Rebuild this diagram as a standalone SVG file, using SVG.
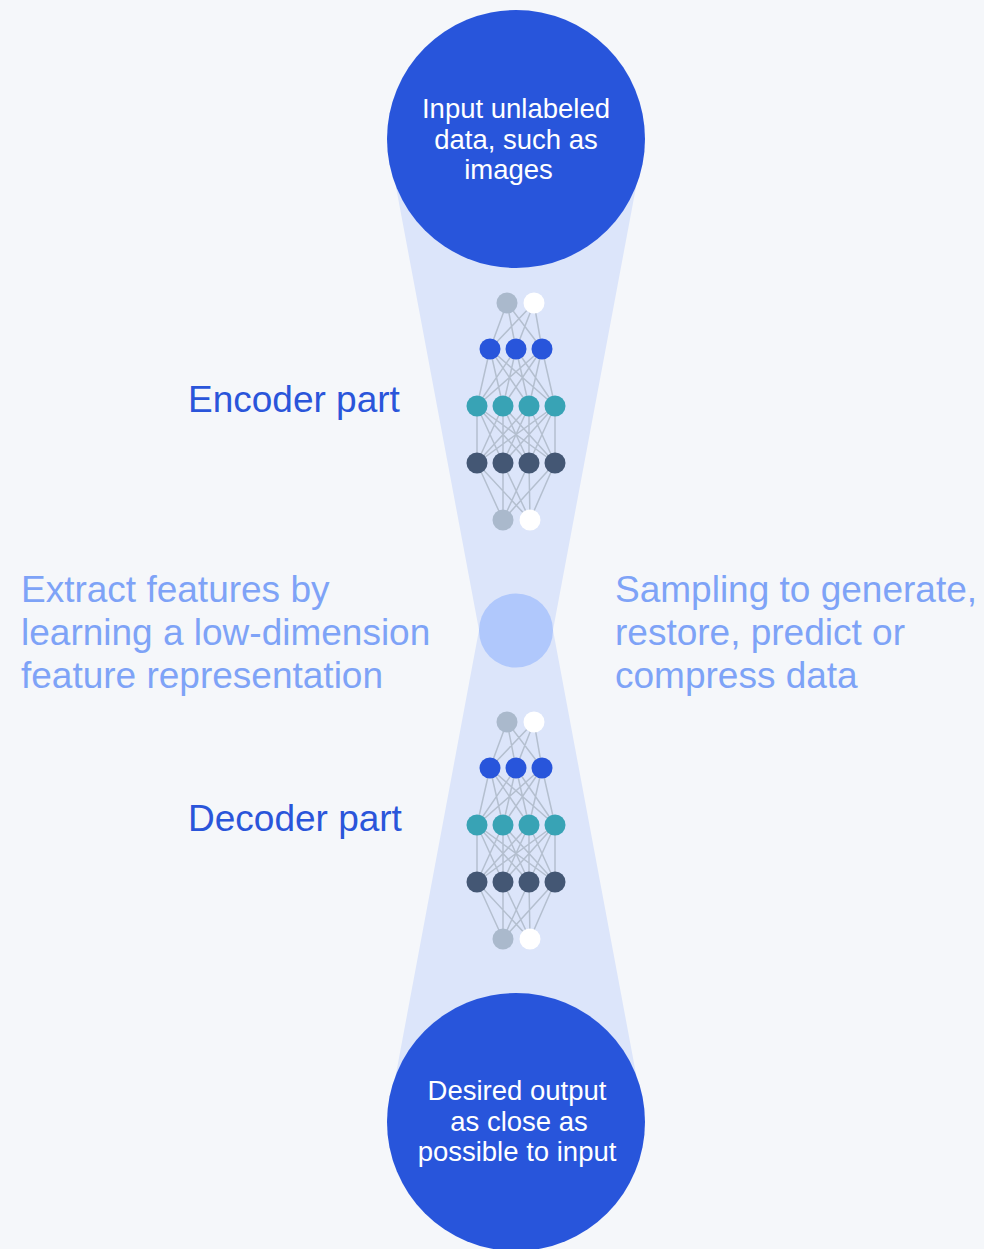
<svg xmlns="http://www.w3.org/2000/svg" xmlns:xlink="http://www.w3.org/1999/xlink" width="984" height="1249" viewBox="0 0 984 1249">
<style>
.bg{fill:#f5f7fa}
.funnel{fill:#dce5fa}
.big{fill:#2855db}
.mid{fill:#b0c8fc}
.ctext{font-family:"Liberation Sans",Arial,sans-serif;font-size:27.5px;fill:#ffffff;text-anchor:middle}
.part{font-family:"Liberation Sans",Arial,sans-serif;font-size:37px;fill:#2a55da}
.note{font-family:"Liberation Sans",Arial,sans-serif;font-size:37px;fill:#7ea3f7}
.edge{stroke:#b4bfcf;stroke-width:1.5;fill:none}
.n-grey{fill:#aab9cc}
.n-white{fill:#ffffff}
.n-blue{fill:#2855db}
.n-teal{fill:#38a3b5}
.n-dark{fill:#445774}
</style>
<defs>
<g id="net">
<path class="edge" d="M507 303L490 349M507 303L516 349M507 303L542 349M534 303L490 349M534 303L516 349M534 303L542 349
M490 349L477 406M490 349L503 406M490 349L529 406M490 349L555 406
M516 349L477 406M516 349L503 406M516 349L529 406M516 349L555 406
M542 349L477 406M542 349L503 406M542 349L529 406M542 349L555 406
M477 406L477 463M477 406L503 463M477 406L529 463M477 406L555 463
M503 406L477 463M503 406L503 463M503 406L529 463M503 406L555 463
M529 406L477 463M529 406L503 463M529 406L529 463M529 406L555 463
M555 406L477 463M555 406L503 463M555 406L529 463M555 406L555 463
M477 463L503 520M477 463L530 520M503 463L503 520M503 463L530 520
M529 463L503 520M529 463L530 520M555 463L503 520M555 463L530 520"/>
<circle class="n-grey" cx="507" cy="303" r="10.5"/>
<circle class="n-white" cx="534" cy="303" r="10.5"/>
<circle class="n-blue" cx="490" cy="349" r="10.5"/>
<circle class="n-blue" cx="516" cy="349" r="10.5"/>
<circle class="n-blue" cx="542" cy="349" r="10.5"/>
<circle class="n-teal" cx="477" cy="406" r="10.5"/>
<circle class="n-teal" cx="503" cy="406" r="10.5"/>
<circle class="n-teal" cx="529" cy="406" r="10.5"/>
<circle class="n-teal" cx="555" cy="406" r="10.5"/>
<circle class="n-dark" cx="477" cy="463" r="10.5"/>
<circle class="n-dark" cx="503" cy="463" r="10.5"/>
<circle class="n-dark" cx="529" cy="463" r="10.5"/>
<circle class="n-dark" cx="555" cy="463" r="10.5"/>
<circle class="n-grey" cx="503" cy="520" r="10.5"/>
<circle class="n-white" cx="530" cy="520" r="10.5"/>
</g>
</defs>
<rect class="bg" x="0" y="0" width="984" height="1249"/>
<g id="connectors">
<polygon class="funnel" points="387,139 645,139 553,630 645,1122 387,1122 479,630"/>
</g>
<g id="input-node">
<circle class="big" cx="516" cy="139" r="129"/>
<text class="ctext"><tspan x="516" y="118">Input unlabeled</tspan><tspan x="516" y="148.5">data, such as</tspan><tspan x="508.5" y="178.5">images</tspan></text>
</g>
<g id="encoder-net">
<use xlink:href="#net" href="#net"/>
</g>
<g id="latent-node">
<circle class="mid" cx="516" cy="630.5" r="37"/>
</g>
<g id="decoder-net">
<use xlink:href="#net" href="#net" transform="translate(0,419)"/>
</g>
<g id="output-node">
<circle class="big" cx="516" cy="1122" r="129"/>
<text class="ctext"><tspan x="517" y="1100">Desired output</tspan><tspan x="519" y="1130.5">as close as</tspan><tspan x="517" y="1160.5">possible to input</tspan></text>
</g>
<g id="encoder-label">
<text class="part" x="188" y="412">Encoder part</text>
</g>
<g id="decoder-label">
<text class="part" x="188" y="831">Decoder part</text>
</g>
<g id="left-note">
<text class="note"><tspan x="21" y="602">Extract features by</tspan><tspan x="21" y="645">learning a low-dimension</tspan><tspan x="21" y="688">feature representation</tspan></text>
</g>
<g id="right-note">
<text class="note"><tspan x="615" y="602">Sampling to generate,</tspan><tspan x="615" y="645">restore, predict or</tspan><tspan x="615" y="688">compress data</tspan></text>
</g>
</svg>
